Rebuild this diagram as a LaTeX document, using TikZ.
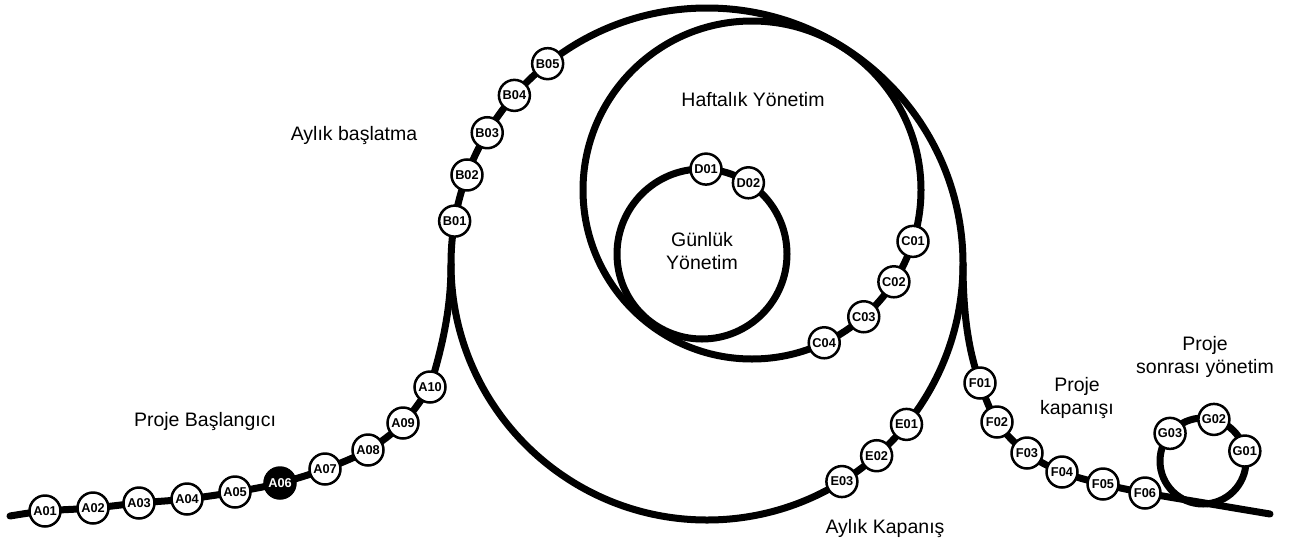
\documentclass[tikz,border=0pt]{standalone}
\usepackage{fontspec}
\setmainfont{Liberation Sans}
\usetikzlibrary{calc,backgrounds}
\begin{document}
\begin{tikzpicture}[x=1pt,y=-1pt,
  track/.style={line width=7pt, line cap=round, line join=round},
  stop/.style={circle, draw, line width=2.5pt, fill=white, minimum size=31pt, inner sep=0pt, font=\fontsize{12.8}{12.8}\selectfont\bfseries},
  stopdark/.style={stop, fill=black, text=white},
  lbl/.style={font=\fontsize{19.5}{23}\selectfont, align=center, inner sep=0pt}]
\useasboundingbox (0,0) rectangle (1293,544);
% circle centres
\coordinate (Cb) at (707,264);
\coordinate (Cm) at (752,190);
\coordinate (Cs) at (702,254);
\coordinate (Cg) at (1203,461);
\coordinate (Lpt) at ($(Cb)+(180:256)$);
\coordinate (Rpt) at ($(Cb)+(0:256)$);
\coordinate (Astart) at (10,516);
\coordinate (Fend) at (1270,514);
% A stops
\node[stop] (A01) at (45,511) {A01};
\node[stop] (A02) at (93,508) {A02};
\node[stop] (A03) at (139,503) {A03};
\node[stop] (A04) at (187,499) {A04};
\node[stop] (A05) at (235,492) {A05};
\node[stopdark] (A06) at (280,483) {A06};
\node[stop] (A07) at (325,469) {A07};
\node[stop] (A08) at (368,450) {A08};
\node[stop] (A09) at (403,423) {A09};
\node[stop] (A10) at (430,387) {A10};
% B stops
\node[stop] (B01) at ($(Cb)+(189.65:256)$) {B01};
\node[stop] (B02) at ($(Cb)+(200.35:256)$) {B02};
\node[stop] (B03) at ($(Cb)+(210.85:256)$) {B03};
\node[stop] (B04) at ($(Cb)+(221.2:256)$) {B04};
\node[stop] (B05) at ($(Cb)+(231.5:256)$) {B05};
% C stops
\node[stop] (C01) at ($(Cm)+(17.7:169)$) {C01};
\node[stop] (C02) at ($(Cm)+(32.9:169)$) {C02};
\node[stop] (C03) at ($(Cm)+(48.6:169)$) {C03};
\node[stop] (C04) at ($(Cm)+(64.7:169)$) {C04};
% D stops
\node[stop] (D01) at ($(Cs)+(272.7:85)$) {D01};
\node[stop] (D02) at ($(Cs)+(303.1:85)$) {D02};
% E stops
\node[stop] (E01) at ($(Cb)+(38.8:256)$) {E01};
\node[stop] (E02) at ($(Cb)+(48.5:256)$) {E02};
\node[stop] (E03) at ($(Cb)+(58.2:256)$) {E03};
% F stops
\node[stop] (F01) at (980,383) {F01};
\node[stop] (F02) at (997,422) {F02};
\node[stop] (F03) at (1027,453) {F03};
\node[stop] (F04) at (1062,472) {F04};
\node[stop] (F05) at (1103,484) {F05};
\node[stop] (F06) at (1145,493) {F06};
% G stops
\node[stop] (G01) at ($(Cg)+(346.6:43)$) {G01};
\node[stop] (G02) at ($(Cg)+(284.7:43)$) {G02};
\node[stop] (G03) at ($(Cg)+(220:43)$) {G03};
% labels
\node[lbl, anchor=base] (lAB) at (354,140) {Aylık başlatma};
\node[lbl, anchor=base] (lHY) at (753,106.5) {Haftalık Yönetim};
\node[lbl] (lGY) at (702,251) {Günlük\\Yönetim};
\node[lbl, anchor=base] (lPB) at (205,426) {Proje Başlangıcı};
\node[lbl, anchor=base] (lAK) at (885,533) {Aylık Kapanış};
\node[lbl] (lPK) at (1077,398) {Proje\\kapanışı};
\node[lbl] (lPS) at (1205,357) {Proje\\sonrası yönetim};
% tracks
\begin{scope}[on background layer]
\draw[track] (Cb) circle[radius=256pt];
\draw[track] (Cm) circle[radius=169pt];
\draw[track] (Cs) circle[radius=85pt];
\draw[track] (Cg) circle[radius=43pt];
\draw[track] plot[smooth, tension=0.6] coordinates {(Astart) (A01.center) (A02.center) (A03.center) (A04.center) (A05.center) (A06.center) (A07.center) (A08.center) (A09.center) (A10.center)}
  .. controls (446,335) and (451,300) .. (Lpt);
\draw[track] (Rpt) .. controls (963,320) and (970,355) .. (F01.center)
  plot[smooth, tension=0.6] coordinates {(F01.center) (F02.center) (F03.center) (F04.center) (F05.center) (F06.center)}
  -- (Fend);
\end{scope}
\end{tikzpicture}
\end{document}
